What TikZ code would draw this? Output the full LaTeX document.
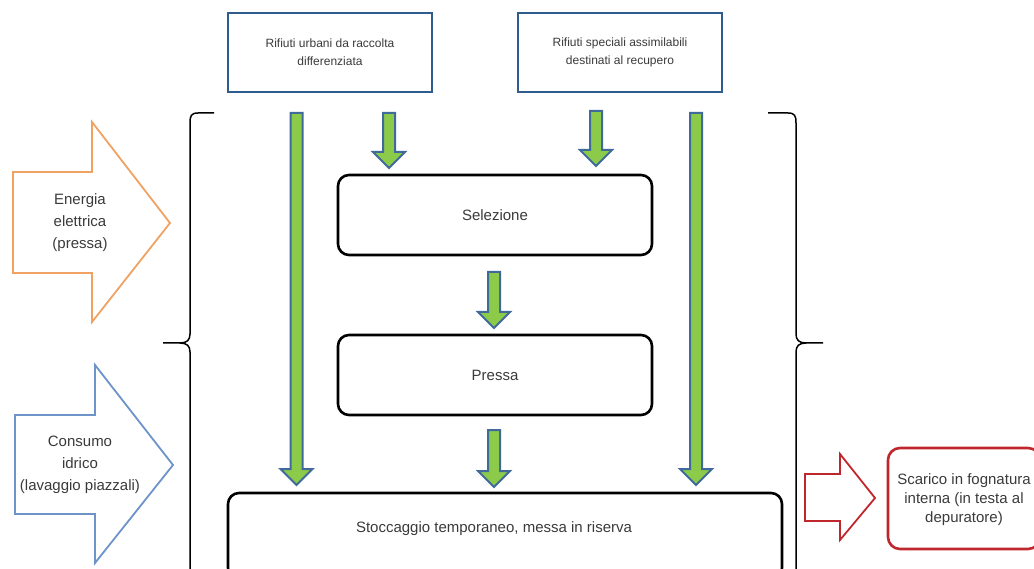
\documentclass[tikz,border=0pt]{standalone}
\usepackage{fontspec}
\setmainfont{Liberation Sans}
\usetikzlibrary{calc}

\definecolor{boxblue}{HTML}{2F5C8F}
\definecolor{flowgreen}{HTML}{8CCB4A}
\definecolor{flowedge}{HTML}{3F6A9A}
\definecolor{energyorange}{HTML}{F0A262}
\definecolor{waterblue}{HTML}{6D93C8}
\definecolor{outred}{HTML}{C0272D}
\definecolor{txt}{HTML}{3A3A3A}

\tikzset{
  inbox/.style={draw=boxblue, line width=2.4pt, minimum width=204pt, minimum height=79pt,
    inner sep=0pt, outer sep=0pt, align=center, text=txt,
    font=\fontsize{12}{18}\selectfont},
  stepbox/.style={draw=black, line width=2.6pt, rounded corners=11pt, inner sep=0pt,
    outer sep=0pt, align=center, text=txt, font=\fontsize{15}{18}\selectfont},
  flowarr/.style={draw=flowedge, fill=flowgreen, line width=2pt, line join=miter},
  bracket/.style={draw=black, line width=1.5pt},
  sidetext/.style={align=center, text=txt, inner sep=0pt, font=\fontsize{15}{22}\selectfont},
}

% green block arrow from #1 down to #2
\newcommand\flowarrow[2]{%
  \draw[flowarr] let \p1=(#1), \p2=(#2) in
    (\x1-6pt,\y1) -- (\x1+6pt,\y1) -- (\x1+6pt,\y2+16pt) -- (\x1+16pt,\y2+16pt)
    -- (\x1,\y2) -- (\x1-16pt,\y2+16pt) -- (\x1-6pt,\y2+16pt) -- cycle;}

\begin{document}
\begin{tikzpicture}[x=1pt, y=-1pt]
\useasboundingbox (0,0) rectangle (1034,569);

% input waste streams
\node[inbox] (urb) at (330,52.5) {Rifiuti urbani da raccolta\\differenziata};
\node[inbox] (spec) at (620,52.5) {Rifiuti speciali assimilabili\\destinati al recupero};

% process steps
\node[stepbox, minimum width=314pt, minimum height=80pt] (sel) at (495,215) {Selezione};
\node[stepbox, minimum width=314pt, minimum height=80pt] (pre) at (495,375) {Pressa};
\node[stepbox, minimum width=554pt, minimum height=86pt] (sto) at (505,536) {};
\node[text=txt, font=\fontsize{15}{18}\selectfont, inner sep=0pt] (stotxt) at (494,529)
  {Stoccaggio temporaneo, messa in riserva};

% arrow end points
\coordinate (lA) at (296.5,113);  \coordinate (lB) at (296.5,485);
\coordinate (rA) at (696,113);    \coordinate (rB) at (696,485);
\coordinate (s1A) at (389,113);   \coordinate (s1B) at (389,168);
\coordinate (s2A) at (596,111);   \coordinate (s2B) at (596,166);
\coordinate (m1A) at (494,272);   \coordinate (m1B) at (494,328);
\coordinate (m2A) at (494,430);   \coordinate (m2B) at (494,487);

\flowarrow{lA}{lB}
\flowarrow{rA}{rB}
\flowarrow{s1A}{s1B}
\flowarrow{s2A}{s2B}
\flowarrow{m1A}{m1B}
\flowarrow{m2A}{m2B}

% boundary brackets
\draw[bracket] (214,113) -- (198,113) .. controls (191,113) and (190,116) .. (190,123)
  -- (190,334) .. controls (190,340) and (187,343) .. (180,343) -- (163,343)
  (180,343) .. controls (187,343) and (190,346) .. (190,352) -- (190,580);
\draw[bracket] (768,113) -- (788,113) .. controls (795,113) and (796,116) .. (796,123)
  -- (796,334) .. controls (796,340) and (799,343) .. (806,343) -- (823,343)
  (806,343) .. controls (799,343) and (796,346) .. (796,352) -- (796,580);

% energy input
\draw[draw=energyorange, line width=1.8pt, line join=miter]
  (13,172) -- (92,172) -- (92,122) -- (170,223) -- (92,322) -- (92,273) -- (13,273) -- cycle;
\node[sidetext] (ene) at (80,223) {Energia\\elettrica\\(pressa)};

% water input
\draw[draw=waterblue, line width=1.8pt, line join=miter]
  (15,415) -- (95,415) -- (95,365) -- (173,465) -- (95,563) -- (95,514) -- (15,514) -- cycle;
\node[sidetext] (wat) at (80,465) {Consumo\\idrico\\(lavaggio piazzali)};

% discharge output
\draw[draw=outred, line width=1.8pt, line join=miter]
  (805,474) -- (840,474) -- (840,454) -- (875,498) -- (840,540) -- (840,521) -- (805,521) -- cycle;
\node[draw=outred, line width=2.6pt, rounded corners=12pt, minimum width=152pt,
  minimum height=101pt, inner sep=0pt, outer sep=0pt] (dis) at (964,498.5) {};
\node[sidetext, font=\fontsize{15}{19}\selectfont] (distxt) at (964,500)
  {Scarico in fognatura\\interna (in testa al\\depuratore)};
\end{tikzpicture}
\end{document}
